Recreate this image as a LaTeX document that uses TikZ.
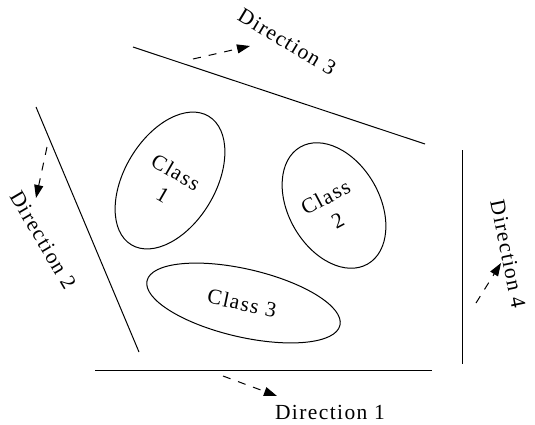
\documentclass[tikz,border=0pt]{standalone}
\usepackage{fontspec}
\setmainfont{Liberation Serif}[LetterSpace=6.5]
\usetikzlibrary{shapes.geometric,arrows.meta}
\begin{document}
\begin{tikzpicture}[x=1pt,y=-1pt,
  sepline/.style={line width=1pt},
  cls/.style={draw, ellipse, line width=1pt, inner sep=0pt},
  dirarrow/.style={line width=1pt, dash pattern=on 8pt off 8pt, -{Triangle[length=13pt,width=9pt]}},
  lbl/.style={font=\fontsize{21.5}{26}\selectfont, inner sep=0pt}]
\useasboundingbox (0,0) rectangle (535,424);
% separating lines
\coordinate (l1a) at (95,370);  \coordinate (l1b) at (432,370);
\coordinate (l2a) at (36,107);  \coordinate (l2b) at (139,352);
\coordinate (l3a) at (133,47);  \coordinate (l3b) at (425,144);
\coordinate (l4a) at (462,150); \coordinate (l4b) at (462,364);
\draw[sepline] (l1a) -- (l1b);
\draw[sepline] (l2a) -- (l2b);
\draw[sepline] (l3a) -- (l3b);
\draw[sepline] (l4a) -- (l4b);
% classes
\node[cls, minimum width=150pt, minimum height=91pt, rotate=59] (c1) at (170,180.5) {};
\node[cls, minimum width=135pt, minimum height=91pt, rotate=120] (c2) at (334,205.5) {};
\node[cls, minimum width=198pt, minimum height=68pt, rotate=-13] (c3) at (243.5,303) {};
\node[lbl, align=center, rotate=-30] (t1) at (169.5,183) {Class\\1};
\node[lbl, align=center, rotate=28] (t2) at (331.5,208.5) {Class\\2};
\node[lbl, rotate=-12] (t3) at (242,303) {Class 3};
% direction labels
\node[lbl, anchor=base] (d1) at (330,419) {Direction 1};
\node[lbl, rotate=-59.5] (d2) at (43,240) {Direction 2};
\node[lbl, rotate=-31] (d3) at (287,42) {Direction 3};
\node[lbl, rotate=-78.5] (d4) at (508,254) {Direction 4};
% direction arrows
\coordinate (a1s) at (223,376); \coordinate (a1e) at (277,396);
\coordinate (a2s) at (47,147);  \coordinate (a2e) at (36,198);
\coordinate (a3s) at (193,59);  \coordinate (a3e) at (250,46);
\coordinate (a4s) at (476,303); \coordinate (a4e) at (501,263);
\draw[dirarrow] (a1s) -- (a1e);
\draw[dirarrow] (a2s) -- (a2e);
\draw[dirarrow] (a3s) -- (a3e);
\draw[dirarrow] (a4s) -- (a4e);
\end{tikzpicture}
\end{document}
